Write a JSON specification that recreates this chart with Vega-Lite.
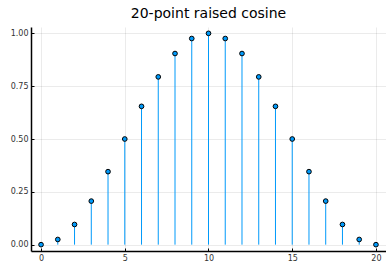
{
  "$schema": "https://vega.github.io/schema/vega-lite/v6.json",
  "width": 355,
  "height": 224,
  "autosize": {"type": "none"},
  "padding": {"left": 31, "top": 27, "right": 0, "bottom": 10},
  "background": "white",
  "title": {"text": "20-point raised cosine", "fontSize": 14, "font": "DejaVu Sans", "fontWeight": "normal", "color": "#000000", "offset": 6, "anchor": "middle"},
  "data": {"values": [
    {"n": 0, "v": 0.0},
    {"n": 1, "v": 0.0245},
    {"n": 2, "v": 0.0955},
    {"n": 3, "v": 0.2061},
    {"n": 4, "v": 0.3455},
    {"n": 5, "v": 0.5},
    {"n": 6, "v": 0.6545},
    {"n": 7, "v": 0.7939},
    {"n": 8, "v": 0.9045},
    {"n": 9, "v": 0.9755},
    {"n": 10, "v": 1.0},
    {"n": 11, "v": 0.9755},
    {"n": 12, "v": 0.9045},
    {"n": 13, "v": 0.7939},
    {"n": 14, "v": 0.6545},
    {"n": 15, "v": 0.5},
    {"n": 16, "v": 0.3455},
    {"n": 17, "v": 0.2061},
    {"n": 18, "v": 0.0955},
    {"n": 19, "v": 0.0245},
    {"n": 20, "v": 0.0}
  ]},
  "config": {
    "view": {"stroke": null},
    "axis": {
      "labelFont": "DejaVu Sans", "labelFontSize": 8, "labelColor": "#333333",
      "domainColor": "#000000", "domainWidth": 1.5,
      "tickColor": "#000000", "tickSize": -3,
      "gridColor": "#000000", "gridOpacity": 0.1, "gridWidth": 0.8,
      "title": null
    }
  },
  "encoding": {
    "x": {"field": "n", "type": "quantitative", "scale": {"domain": [-0.6, 20.6], "nice": false, "zero": false},
      "axis": {"values": [0, 5, 10, 15, 20], "labelPadding": 6, "format": "d"}},
    "y": {"field": "v", "type": "quantitative", "scale": {"domain": [-0.03, 1.03], "nice": false, "zero": false},
      "axis": {"values": [0, 0.25, 0.5, 0.75, 1.0], "format": ".2f", "labelPadding": 6}}
  },
  "layer": [
    {"mark": {"type": "rule", "color": "#009AFA", "strokeWidth": 1}, "encoding": {"y2": {"datum": 0}}},
    {"mark": {"type": "point", "shape": "circle", "filled": true, "fill": "#009AFA", "stroke": "#000000", "strokeWidth": 1, "size": 22, "opacity": 1}}
  ]
}
